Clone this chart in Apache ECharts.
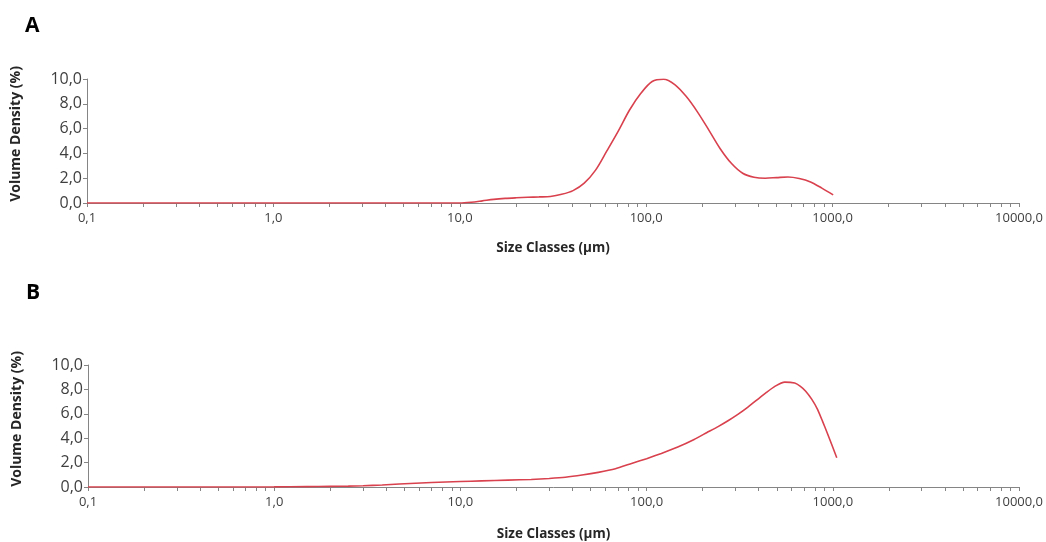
<!DOCTYPE html>
<html>
<head>
<meta charset="utf-8">
<script src="https://cdn.jsdelivr.net/npm/echarts@6/dist/echarts.min.js"></script>
<style>
html,body{margin:0;padding:0;background:#fff;}
#chart{width:1046px;height:542px;}
</style>
</head>
<body>
<div id="chart"></div>
<script>
// ---- data ----
const panelLabels = ['A', 'B'];
const xAxisName = 'Size Classes (\u00b5m)';
const yAxisName = 'Volume Density (%)';
const xMajorTicks = [0.1, 1, 10, 100, 1000, 10000];
const yTicks = [0, 2, 4, 6, 8, 10];

const sizesA = [0.1, 0.5, 1, 5, 10, 11.5, 13.2, 15.2, 17.5, 20.1, 23.1, 26.6, 30.6, 35.2, 40.5, 46.5, 53.5, 61.5, 70.8, 81.4, 93.6, 107.6, 123.8, 142.3, 163.7, 188.2, 216.4, 248.9, 286.2, 329.2, 378.5, 435.3, 500.6, 575.7, 662, 761.3, 875.5, 1006.8];
const densityA = [0, 0, 0, 0, 0, 0.06, 0.17, 0.29, 0.37, 0.42, 0.46, 0.49, 0.53, 0.7, 1.0, 1.6, 2.65, 4.2, 5.8, 7.5, 8.85, 9.8, 9.98, 9.55, 8.6, 7.35, 5.9, 4.4, 3.2, 2.4, 2.08, 2.0, 2.05, 2.1, 1.98, 1.7, 1.2, 0.65];

const sizesB = [0.1, 0.5, 1, 1.5, 2, 2.5, 3, 3.8, 4.7, 7, 10, 13, 18, 24, 30, 36.6, 45, 55, 68, 83, 100, 120, 147, 180, 210, 242, 275, 309, 350, 396, 440, 488, 552, 624, 670, 715, 770, 829, 880, 938, 1050];
const densityB = [0, 0, 0.01, 0.03, 0.05, 0.07, 0.1, 0.17, 0.25, 0.37, 0.45, 0.5, 0.56, 0.62, 0.7, 0.8, 0.98, 1.2, 1.5, 1.93, 2.32, 2.75, 3.28, 3.9, 4.45, 4.95, 5.45, 5.95, 6.55, 7.2, 7.75, 8.25, 8.6, 8.52, 8.25, 7.85, 7.2, 6.35, 5.4, 4.35, 2.4];

// minor tick positions (2..9 per decade)
const xTickValues = [];
for (let d = 0; d < xMajorTicks.length; d++) {
  const base = xMajorTicks[d];
  xTickValues.push(base);
  if (d < xMajorTicks.length - 1) {
    for (let k = 2; k <= 9; k++) xTickValues.push(+(base * k).toPrecision(6));
  }
}

const pairs = (xs, ys) => xs.map((x, i) => [x, ys[i]]);
const comma = v => Number(v).toFixed(1).replace('.', ',');

const FONT = '"Open Sans", "Liberation Sans", sans-serif';
const AXIS_COLOR = '#858585';
const LABEL_COLOR = '#3f3f3f';
const LINE_COLOR = '#d8414d';

const grids = [
  {left: 87, right: 17, top: 79, height: 124},
  {left: 88, right: 24, top: 365, height: 124}
];

function xAxis(i, gap) {
  return {
    type: 'log', logBase: 10, gridIndex: i, min: 0.1, max: 10000,
    name: xAxisName, nameLocation: 'middle', nameGap: gap,
    nameTextStyle: {fontFamily: FONT, fontWeight: 'bold', fontSize: 13.5, color: '#262626'},
    axisLine: {show: true, lineStyle: {color: AXIS_COLOR, width: 1}},
    axisTick: {show: true, length: 4, inside: false, customValues: xTickValues, lineStyle: {color: AXIS_COLOR}},
    minorTick: {show: false},
    splitLine: {show: false},
    axisLabel: {customValues: xMajorTicks, margin: 9, fontFamily: FONT, fontSize: 13, color: LABEL_COLOR,
      formatter: v => comma(v)}
  };
}
function yAxis(i) {
  return {
    type: 'value', gridIndex: i, min: 0, max: 10, interval: 2,
    name: yAxisName, nameLocation: 'middle', nameGap: 64, nameRotate: 90,
    nameTextStyle: {fontFamily: FONT, fontWeight: 'bold', fontSize: 14, color: '#262626', padding: [0, 0, 0, 14]},
    axisLine: {show: true, lineStyle: {color: AXIS_COLOR, width: 1}},
    axisTick: {show: true, length: 4, inside: false, lineStyle: {color: AXIS_COLOR}},
    splitLine: {show: false},
    axisLabel: {margin: 5, fontFamily: FONT, fontSize: 16, color: LABEL_COLOR, formatter: v => comma(v)}
  };
}

const chart = echarts.init(document.getElementById('chart'), null, {renderer: 'canvas'});
chart.setOption({
  animation: false,
  backgroundColor: '#ffffff',
  grid: grids,
  xAxis: [xAxis(0, 38), xAxis(1, 40)],
  yAxis: [yAxis(0), yAxis(1)],
  graphic: [
    {type: 'text', left: 25, top: 16, style: {text: panelLabels[0], font: 'bold 21px ' + FONT, fill: '#000'}},
    {type: 'text', left: 26, top: 283, style: {text: panelLabels[1], font: 'bold 21px ' + FONT, fill: '#000'}}
  ],
  series: [
    {type: 'line', xAxisIndex: 0, yAxisIndex: 0, data: pairs(sizesA, densityA), smooth: 0.3,
      showSymbol: false, lineStyle: {color: LINE_COLOR, width: 1.6}, itemStyle: {color: LINE_COLOR}},
    {type: 'line', xAxisIndex: 1, yAxisIndex: 1, data: pairs(sizesB, densityB), smooth: 0.15,
      showSymbol: false, lineStyle: {color: LINE_COLOR, width: 1.6}, itemStyle: {color: LINE_COLOR}}
  ]
});
</script>
</body>
</html>
